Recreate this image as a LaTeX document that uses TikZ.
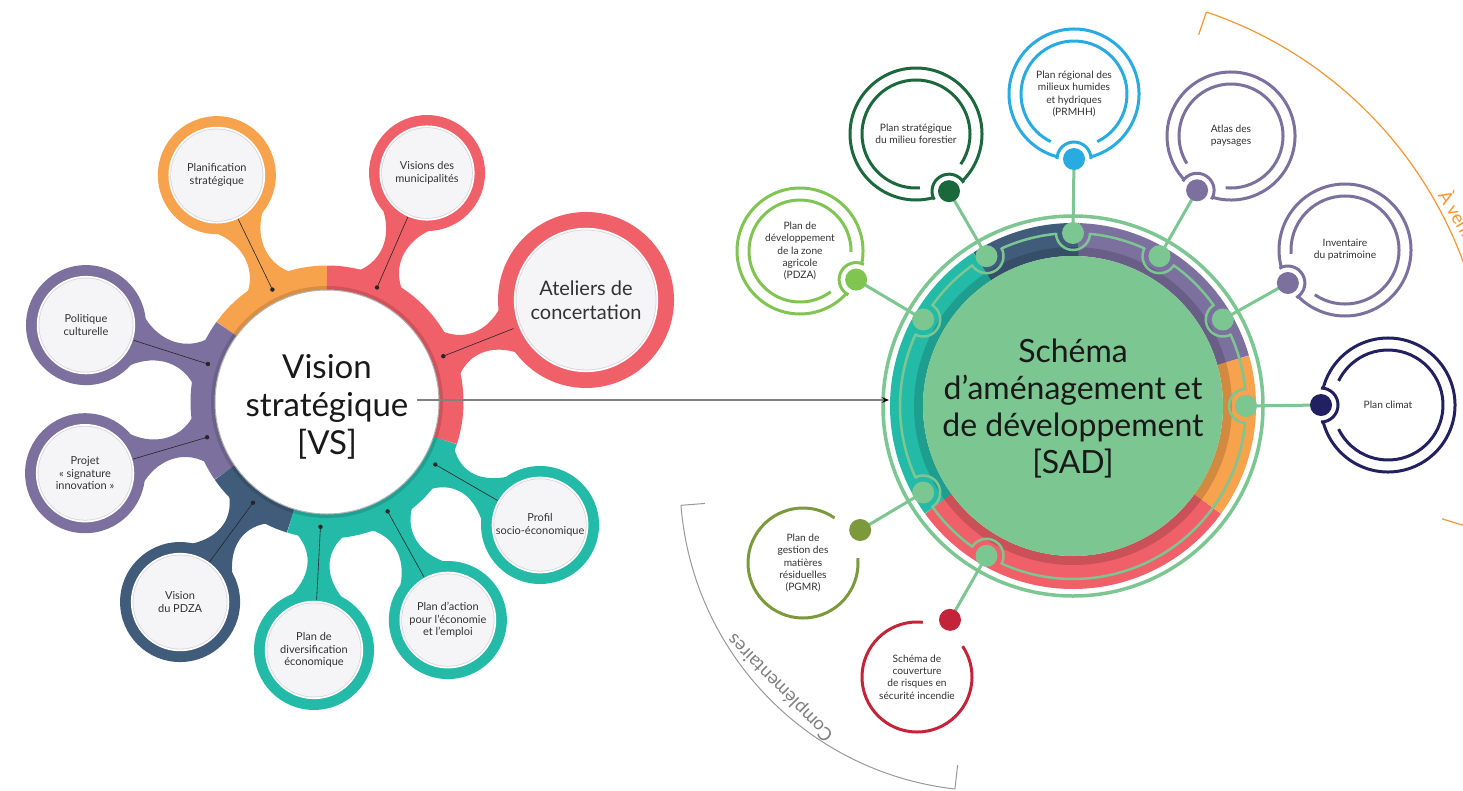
\documentclass[tikz,border=0pt]{standalone}
\usepackage{fontspec}
\setmainfont{Lato}
\usepackage{tikz}
\usetikzlibrary{arrows.meta,calc}

\definecolor{vsorange}{RGB}{247,162,76}
\definecolor{vsred}{RGB}{239,96,105}
\definecolor{vsteal}{RGB}{36,186,168}
\definecolor{vsslate}{RGB}{64,92,122}
\definecolor{vspurple}{RGB}{124,112,158}
\definecolor{satfill}{RGB}{245,245,247}
\definecolor{satedge}{RGB}{214,214,220}
\definecolor{sadgreen}{RGB}{124,198,145}
\definecolor{pdzagreen}{RGB}{128,197,82}
\definecolor{forestgreen}{RGB}{26,104,60}
\definecolor{waterblue}{RGB}{41,171,226}
\definecolor{climatnavy}{RGB}{33,32,96}
\definecolor{pgmrolive}{RGB}{124,154,60}
\definecolor{firered}{RGB}{196,36,57}
\definecolor{venirorange}{RGB}{247,150,50}
\definecolor{txtgray}{RGB}{50,50,50}

\tikzset{
  vstext/.style={align=center,text=txtgray,font=\fontsize{11}{12.5}\selectfont},
  bigtext/.style={align=center,text=txtgray,font=\fontsize{20}{24}\selectfont},
  sattext/.style={align=center,text=txtgray,font=\fontsize{10.2}{12.2}\selectfont},
  ringline/.style={line width=3pt},
  sadline/.style={sadgreen,line width=3pt},
  tieline/.style={black!85,line width=0.6pt}
}

% left satellite: name, angle, distance, radius, colour, text style, text
\newcommand{\vssat}[7]{%
  \pgfmathsetmacro\neckend{#3-#4+6}
  \pgfmathsetmacro\neckctl{#3-#4-16}
  \pgfmathsetmacro\tiestart{#3-#4+10}
  \pgfmathsetmacro\rwhite{0.82*#4}
  \pgfmathsetmacro\redge{0.82*#4-1.8}
  \pgfmathsetmacro\rfill{0.82*#4-2.6}
  \begin{scope}[shift={(vs)},rotate=#2]
    \fill[#5] (130pt,27pt) .. controls (148pt,6pt) and (\neckctl pt,6pt) .. (\neckend pt,25pt)
      -- (\neckend pt,-25pt) .. controls (\neckctl pt,-6pt) and (148pt,-6pt) .. (130pt,-27pt) -- cycle;
  \end{scope}
  \path (vs) ++(#2:#3pt) coordinate (#1);
  \fill[#5] (#1) circle[radius=#4pt];
  \fill[white] (#1) circle[radius=\rwhite pt];
  \fill[satedge] (#1) circle[radius=\redge pt];
  \fill[satfill] (#1) circle[radius=\rfill pt];
  \path (vs) ++(#2:\tiestart pt) coordinate (#1 tie);
  \path (vs) ++(#2:125pt) coordinate (#1 pin);
  \draw[tieline] (#1 tie) -- (#1 pin);
  \fill[black!85] (#1 pin) circle[radius=2.2pt];
  \node[#6] (#1 text) at (#1) {#7};
}

% right satellite: name, centre, radius, dot angle, ring angle, colour, text
\newcommand{\sadsat}[7]{%
  \pgfmathsetmacro\gapo{asin(17/#3)}
  \pgfmathsetmacro\rin{#3-12}
  \coordinate (#1) at (#2);
  \path (#1) ++(#4:#3pt) coordinate (#1 dot);
  \path (sad) ++(#5:173pt) coordinate (#1 ring);
  \draw[sadline] (#1 ring) -- (#1 dot);
  \draw[#6,ringline] (#1) ++(#4+\gapo:#3pt) arc[start angle=#4+\gapo,end angle=#4+360-\gapo,radius=#3pt];
  \draw[#6,ringline] (#1) ++(#4+26:\rin pt) arc[start angle=#4+26,end angle=#4+334,radius=\rin pt];
  \draw[#6,ringline] (#1 dot) ++(#4+90:17pt) arc[start angle=#4+90,end angle=#4+270,radius=17pt];
  \fill[#6] (#1 dot) circle[radius=11pt];
  \node[sattext] (#1 text) at (#1) {#7};
}

% complementary plan: name, centre, radius, dot angle, ring angle, gap start, gap end, colour, text
\newcommand{\sadcomp}[9]{%
  \pgfmathsetmacro\dotdist{#3+11}
  \coordinate (#1) at (#2);
  \path (#1) ++(#4:\dotdist pt) coordinate (#1 dot);
  \path (sad) ++(#5:173pt) coordinate (#1 ring);
  \draw[sadline] (#1 ring) -- (#1 dot);
  \draw[#8,ringline] (#1) ++(#7:#3pt) arc[start angle=#7,end angle=#6+360,radius=#3pt];
  \fill[#8] (#1 dot) circle[radius=11pt];
  \node[sattext] (#1 text) at (#1) {#9};
}

\begin{document}
\begin{tikzpicture}[x=1pt,y=-1pt]
  \useasboundingbox (0,0) rectangle (1463,790);
  \clip (0,0) rectangle (1463,790);
  \fill[white] (0,0) rectangle (1463,790);

  % vision strategique
  \coordinate (vs) at (327,402);
  \foreach \a/\b/\c in {90/144/vsorange,144/214.6/vspurple,214.6/253/vsslate,253/342/vsteal,-18/90/vsred}
    \draw[\c,line width=25pt] (vs) ++(\a:124pt) arc[start angle=\a,end angle=\b,radius=124pt];
  \draw[black,opacity=0.13,line width=4pt] (vs) circle[radius=114pt];
  \fill[white] (vs) circle[radius=112pt];
  \draw[black!30,line width=1pt] (vs) circle[radius=112pt];
  \node[font=\fontsize{33}{38}\selectfont,align=center,text=black!90] (vs text) at (327,407) {Vision\\stratégique\\{[VS]}};

  \vssat{planif}{115.9}{252.2}{59}{vsorange}{vstext}{Planification\\stratégique}
  \vssat{visions}{66.4}{249.9}{58}{vsred}{vstext}{Visions des\\municipalités}
  \vssat{ateliers}{21.5}{278.4}{88}{vsred}{bigtext}{Ateliers de\\concertation}
  \vssat{politique}{162.3}{253}{60}{vspurple}{vstext}{Politique\\culturelle}
  \vssat{projet}{196.4}{252.2}{60}{vspurple}{vstext}{Projet\\« signature\\innovation »}
  \vssat{pdzavision}{233.7}{248.2}{60}{vsslate}{vstext}{Vision\\du PDZA}
  \vssat{diversif}{267}{248.3}{60}{vsteal}{vstext}{Plan de\\diversification\\économique}
  \vssat{action}{299}{249.3}{59}{vsteal}{vstext}{Plan d’action\\pour l’économie\\et l’emploi}
  \vssat{profil}{330}{246}{59}{vsteal}{vstext}{Profil\\socio-économique}

  % schema d'amenagement
  \coordinate (sad) at (1073,406);
  \foreach \a/\b/\c in {123/216/vsteal,216/324/vsred,-36/16/vsorange,16/88/vspurple,88/123/vsslate}
    \draw[\c,line width=33pt] (sad) ++(\a:166.5pt) arc[start angle=\a,end angle=\b,radius=166.5pt];
  \draw[black,opacity=0.15,line width=9pt] (sad) circle[radius=154.5pt];
  \fill[sadgreen] (sad) circle[radius=150pt];
  \draw[sadline,line width=3.5pt] (sad) circle[radius=190pt];
  \foreach \a/\b in {0/30,30/60,60/90,90/120,120/150,150/210,210/240,240/360}
    \draw[sadline,line width=2.5pt] (sad) ++(\a+5.6:173pt) arc[start angle=\a+5.6,end angle=\b-5.6,radius=173pt];
  \node[font=\fontsize{32}{37}\selectfont,align=center,text=black!90] (sad text) at (1073,409) {Schéma\\d’aménagement et\\de développement\\{[SAD]}};

  \sadsat{pdza}{800,251}{63}{-27}{150}{pdzagreen}{Plan de\\développement\\de la zone\\agricole\\(PDZA)}
  \sadsat{foret}{916,134}{66}{-60}{120}{forestgreen}{Plan stratégique\\du milieu forestier}
  \sadsat{prmhh}{1074,94}{65}{-90}{90}{waterblue}{Plan régional des\\milieux humides\\et hydriques\\(PRMHH)}
  \sadsat{atlas}{1231,136}{64}{238}{60}{vspurple}{Atlas des\\paysages}
  \sadsat{patrimoine}{1345,250}{66}{210}{30}{vspurple}{Inventaire\\du patrimoine}
  \sadsat{climat}{1388,405}{67}{180}{0}{climatnavy}{Plan climat}
  \sadcomp{pgmr}{803,563}{55}{30}{210}{5}{55}{pgmrolive}{Plan de\\gestion des\\matières\\résiduelles\\(PGMR)}
  \sadcomp{incendie}{917,677}{55}{60}{240}{34}{84}{firered}{Schéma de\\couverture\\de risques en\\sécurité incendie}

  \foreach \t in {0,30,60,90,120,150,210,240}{
    \draw[sadline,line width=2.5pt] (sad) ++(\t:173pt) ++(\t+90:17pt) arc[start angle=\t+90,end angle=\t+270,radius=17pt];
    \fill[sadgreen] (sad) ++(\t:173pt) circle[radius=11pt];
  }

  % a venir / complementaires
  \draw[venirorange,line width=1.2pt] (sad) ++(71.3:416pt) coordinate (venir top)
    arc[start angle=71.3,end angle=-17,radius=416pt] coordinate (venir bottom);
  \draw[venirorange,line width=1.2pt] (venir top) -- ++(251.3:24pt);
  \draw[venirorange,line width=1.2pt] (venir bottom) -- ++(163:30pt);
  \path (sad) ++(30.5:421pt) node[anchor=base west,rotate=-59.5,text=venirorange,font=\fontsize{18}{18}\selectfont] (venir) {À venir};

  \coordinate (comp) at (990,481);
  \draw[black!40,line width=1pt] (comp) ++(184.5:310pt) coordinate (comp top)
    arc[start angle=184.5,end angle=263.5,radius=310pt] coordinate (comp bottom);
  \draw[black!40,line width=1pt] (comp top) -- ++(4.5:24pt);
  \draw[black!40,line width=1pt] (comp bottom) -- ++(83.5:24pt);
  \path (comp) ++(224.6:294pt) node[rotate=134.6,text=black!50,font=\fontsize{18.5}{18.5}\selectfont] (comp text) {Complémentaires};

  % lien VS -> SAD
  \coordinate (vs arrow) at (417,400);
  \coordinate (sad arrow) at (889,400);
  \draw[black!50,line width=1.3pt,-{Stealth[length=7pt,width=5.5pt,color=black]}] (vs arrow) -- (sad arrow);
\end{tikzpicture}
\end{document}
